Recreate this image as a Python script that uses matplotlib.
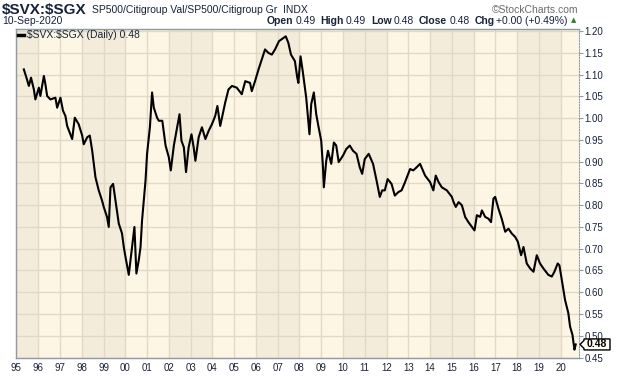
import matplotlib.pyplot as plt
from matplotlib.lines import Line2D
from matplotlib.patches import Polygon
from matplotlib.transforms import IdentityTransform

plt.rcParams['font.family'] = ['Liberation Sans', 'DejaVu Sans']

# values: decimal year and $SVX:$SGX ratio
years = [1995.34, 1995.46, 1995.57, 1995.67, 1995.80, 1995.87, 1996.03, 1996.10, 1996.26, 1996.33,
         1996.41, 1996.56, 1996.79, 1996.87, 1997.02, 1997.14, 1997.25, 1997.33, 1997.56, 1997.68,
         1997.86, 1998.02, 1998.09, 1998.25, 1998.37, 1998.48, 1998.63, 1998.78, 1998.93, 1999.01,
         1999.16, 1999.24, 1999.32, 1999.44, 1999.55, 1999.70, 1999.85, 1999.93, 2000.01, 2000.16,
         2000.24, 2000.31, 2000.42, 2000.51, 2000.62, 2000.70, 2000.77, 2000.93, 2001.00, 2001.13,
         2001.23, 2001.31, 2001.46, 2001.54,
         2001.70, 2001.85, 2002.00, 2002.09, 2002.23, 2002.38, 2002.49, 2002.58, 2002.69, 2002.79,
         2002.91, 2003.04, 2003.14, 2003.22, 2003.37, 2003.52, 2003.68, 2003.83, 2003.98, 2004.13,
         2004.23, 2004.36, 2004.44, 2004.59, 2004.74, 2004.90, 2005.12, 2005.35, 2005.51, 2005.73,
         2005.81, 2005.96, 2006.12, 2006.27, 2006.42, 2006.57, 2006.73, 2006.88, 2007.06, 2007.26,
         2007.37, 2007.49, 2007.61, 2007.79, 2007.90,
         2007.95, 2008.05, 2008.15, 2008.31, 2008.46, 2008.54, 2008.66, 2008.77, 2008.88, 2009.00,
         2009.08, 2009.12, 2009.23, 2009.31, 2009.46, 2009.58, 2009.69, 2009.80, 2010.00, 2010.15,
         2010.31, 2010.46, 2010.62, 2010.77, 2010.88, 2011.00, 2011.18, 2011.38, 2011.54, 2011.69,
         2011.80, 2011.92, 2012.05, 2012.23, 2012.38, 2012.54, 2012.69, 2012.85, 2013.08, 2013.23,
         2013.38, 2013.54, 2013.77, 2014.00, 2014.15, 2014.26,
         2014.39, 2014.54, 2014.77, 2015.00, 2015.08, 2015.18, 2015.31, 2015.46, 2015.61, 2015.76,
         2015.92, 2016.04, 2016.15, 2016.30, 2016.38, 2016.53, 2016.68, 2016.80, 2016.91, 2016.99,
         2017.14, 2017.29, 2017.45, 2017.60, 2017.75, 2017.91, 2018.03, 2018.18, 2018.29, 2018.44,
         2018.59, 2018.75, 2018.90, 2019.05, 2019.20, 2019.43, 2019.59, 2019.71, 2019.86, 2019.94,
         2020.05, 2020.20, 2020.35, 2020.43, 2020.54, 2020.63, 2020.69]
ratio = [1.112, 1.093, 1.074, 1.093, 1.066, 1.043, 1.070, 1.051, 1.097, 1.078,
         1.051, 1.043, 1.047, 1.024, 1.047, 1.017, 1.005, 0.982, 0.952, 1.001,
         0.986, 0.960, 0.940, 0.956, 0.960, 0.925, 0.864, 0.834, 0.811, 0.796,
         0.773, 0.750, 0.841, 0.849, 0.811, 0.758, 0.735, 0.704, 0.681, 0.640,
         0.674, 0.704, 0.750, 0.643, 0.674, 0.704, 0.765, 0.857, 0.918, 0.979,
         1.059, 1.024, 1.001, 0.994,
         0.994, 0.937, 0.910, 0.880, 0.937, 0.979, 1.009, 0.948, 0.933, 0.876,
         0.933, 0.963, 0.933, 0.902, 0.956, 0.979, 0.952, 0.971, 0.986, 1.005,
         1.028, 0.982, 1.001, 1.036, 1.066, 1.074, 1.070, 1.055, 1.085, 1.081,
         1.062, 1.085, 1.112, 1.135, 1.158, 1.150, 1.146, 1.158, 1.177, 1.184,
         1.188, 1.173, 1.146, 1.131, 1.093,
         1.081, 1.142, 1.108, 1.047, 0.963, 1.032, 1.059, 1.009, 0.979, 0.948,
         0.887, 0.841, 0.902, 0.925, 0.895, 0.944, 0.937, 0.899, 0.914, 0.929,
         0.937, 0.925, 0.918, 0.887, 0.872, 0.906, 0.918, 0.895, 0.857, 0.819,
         0.834, 0.834, 0.860, 0.849, 0.822, 0.830, 0.834, 0.853, 0.883, 0.880,
         0.887, 0.895, 0.868, 0.853, 0.834, 0.868,
         0.853, 0.841, 0.834, 0.819, 0.807, 0.796, 0.807, 0.800, 0.773, 0.761,
         0.750, 0.742, 0.777, 0.773, 0.788, 0.773, 0.769, 0.761, 0.815, 0.819,
         0.792, 0.769, 0.739, 0.746, 0.735, 0.727, 0.716, 0.685, 0.704, 0.666,
         0.655, 0.647, 0.685, 0.666, 0.655, 0.640, 0.636, 0.647, 0.666, 0.662,
         0.628, 0.582, 0.552, 0.521, 0.502, 0.468, 0.480]

year_ticks = list(range(1995, 2021))
year_labels = ['%02d' % (y % 100) for y in year_ticks]
price_ticks = [0.45, 0.50, 0.55, 0.60, 0.65, 0.70, 0.75, 0.80, 0.85, 0.90,
               0.95, 1.00, 1.05, 1.10, 1.15, 1.20]
last_value = 0.48

W, H = 620, 376
navy = '#17233a'
frame = '#8d9ba6'

fig = plt.figure(figsize=(W / 100, H / 100), dpi=100)
fig.patch.set_facecolor('white')
ax = fig.add_axes([16 / W, 1 - 357.5 / H, 563 / W, 329 / H])
ax.set_xlim(1994.98, 2020.84)
ax.set_ylim(0.4538, 1.206)

# alternating two-year bands
ax.set_facecolor('#fdf6e4')
for y0 in range(1994, 2021, 4):
    ax.axvspan(y0, y0 + 2, color='#f4ecda', lw=0, zorder=0)

ax.set_xticks(year_ticks)
ax.set_xticklabels(year_labels)
ax.set_yticks(price_ticks)
ax.set_yticklabels(['%.2f' % v for v in price_ticks])
ax.grid(color='#e2d9c5', lw=1, zorder=1)
ax.set_axisbelow(True)
ax.yaxis.tick_right()
ax.tick_params(axis='x', length=0, pad=4, labelsize=7, labelcolor=navy)
ax.tick_params(axis='y', length=3, width=0.8, color=frame, pad=1,
               labelsize=7, labelcolor=navy)
for side in ['left', 'bottom', 'top']:
    ax.spines[side].set_color(frame)
    ax.spines[side].set_linewidth(1)
ax.spines['right'].set_color(frame)
ax.spines['right'].set_linestyle((0, (1, 1.5)))

ax.plot(years, ratio, color='black', lw=1.5, zorder=3)

# current value tag
pix = IdentityTransform()
_, py = ax.transData.transform((2020, last_value))
px = ax.transAxes.transform((1, 0))[0]
tag = Polygon([(px + 1, py), (px + 5, py + 4), (px + 5, py + 5.5), (px + 31, py + 5.5),
               (px + 31, py - 5.5), (px + 5, py - 5.5), (px + 5, py - 4)],
              closed=True, fc='#fffdf3', ec='black', lw=1, transform=pix, zorder=5)
fig.add_artist(tag)
fig.text(px + 18, py, '%.2f' % last_value, transform=pix, ha='center', va='center',
         fontsize=7.5, fontweight='bold', color='black', zorder=6)


def put(x, ytop, s, **kw):
    # x, ytop in image pixels measured from the top-left corner
    return fig.text(x, H - ytop, s, transform=pix, va='center', parse_math=False, **kw)


def rich(x_right, ytop, parts):
    r = fig.canvas.get_renderer()
    texts, x = [], 0
    for s, bold, gap in parts:
        t = put(x, ytop, s, fontsize=7.5, color=navy,
                fontweight='bold' if bold else 'normal')
        w = t.get_window_extent(r).width
        texts.append((t, x))
        x += w + gap
    shift = x_right - x
    for t, x0 in texts:
        t.set_x(x0 + shift)


put(2, 10, '$SVX:$SGX', fontsize=11, fontweight='bold', color=navy)
put(92, 10, 'SP500/Citigroup Val/SP500/Citigroup Gr  INDX', fontsize=7.5, color=navy)
put(578, 10, '\u00a9StockCharts.com', fontsize=7.5, color='#6b6b6b', ha='right')
put(2, 21, '10-Sep-2020', fontsize=7.5, color=navy)
rich(568, 21, [('Open', True, 2), ('0.49', False, 5), ('High', True, 2), ('0.49', False, 5),
               ('Low', True, 2), ('0.48', False, 5), ('Close', True, 2), ('0.48', False, 5),
               ('Chg', True, 2), ('+0.00 (+0.49%)', False, 0)])
put(571, 20.5, '\u25b2', fontsize=5, color='#2e7d32', family=['DejaVu Sans'])

fig.add_artist(Line2D([18, 24], [H - 35, H - 35], color='black', lw=2.5, transform=pix))
put(27, 35, '$SVX:$SGX (Daily) 0.48', fontsize=7.5, color=navy)

fig.savefig('out.png', dpi=100)
